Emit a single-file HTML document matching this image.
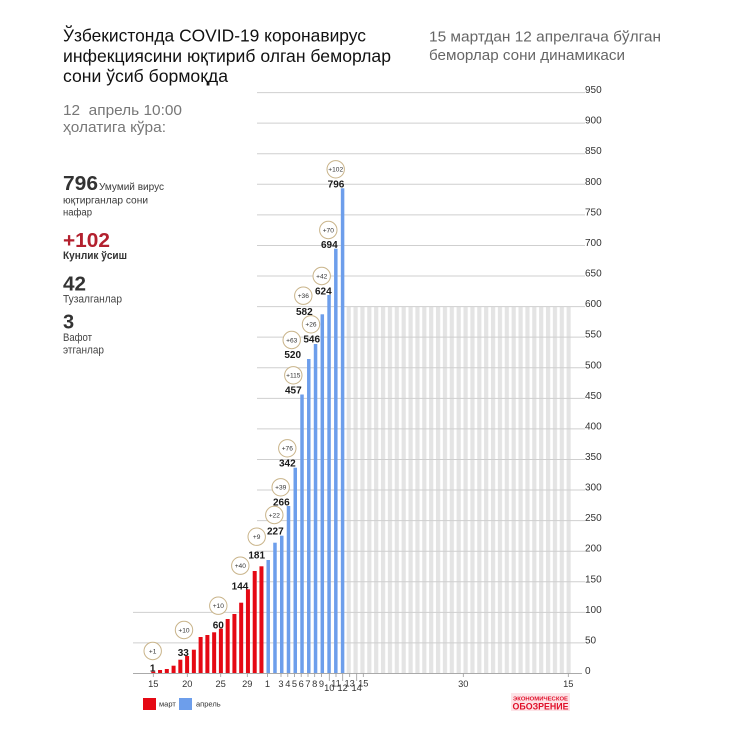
<!DOCTYPE html>
<html><head><meta charset="utf-8"><style>
html,body{margin:0;padding:0;background:#fff;}
svg{display:block;}
text{font-family:"Liberation Sans","DejaVu Sans",sans-serif;}
</style></head><body>
<svg width="736" height="736" viewBox="0 0 736 736" xmlns="http://www.w3.org/2000/svg">
<defs>
<pattern id="gp" patternUnits="userSpaceOnUse" x="346.6" y="0" width="6.875" height="736">
<rect x="0" y="0" width="4.2" height="736" fill="#e4e4e4"/>
</pattern>
</defs>
<rect width="736" height="736" fill="#fff"/>

<!-- Titles -->
<g fill="#111" font-size="17.5">
<text x="63" y="41.5" textLength="303" lengthAdjust="spacingAndGlyphs">Ўзбекистонда COVID-19 коронавирус</text>
<text x="63" y="62" textLength="328" lengthAdjust="spacingAndGlyphs">инфекциясини юқтириб олган беморлар</text>
<text x="63" y="82" textLength="165" lengthAdjust="spacingAndGlyphs">сони ўсиб бормоқда</text>
</g>
<g fill="#666" font-size="15">
<text x="429" y="41.5" textLength="232" lengthAdjust="spacingAndGlyphs">15 мартдан 12 апрелгача бўлган</text>
<text x="429" y="60" textLength="196" lengthAdjust="spacingAndGlyphs">беморлар сони динамикаси</text>
</g>
<g fill="#777" font-size="15">
<text x="63" y="115" textLength="119" lengthAdjust="spacingAndGlyphs">12&#160; апрель 10:00</text>
<text x="63" y="132" textLength="103" lengthAdjust="spacingAndGlyphs">ҳолатига кўра:</text>
</g>

<!-- Stats -->
<text x="63" y="190" font-size="20" font-weight="bold" fill="#333" textLength="35" lengthAdjust="spacingAndGlyphs">796</text>
<text x="99" y="190" font-size="10" fill="#3a3a3a" textLength="65" lengthAdjust="spacingAndGlyphs">Умумий вирус</text>
<text x="63" y="203.5" font-size="10" fill="#3a3a3a" textLength="85" lengthAdjust="spacingAndGlyphs">юқтирганлар сони</text>
<text x="63" y="215.5" font-size="10" fill="#3a3a3a" textLength="29" lengthAdjust="spacingAndGlyphs">нафар</text>
<text x="63" y="247" font-size="20" font-weight="bold" fill="#b3202e" textLength="47" lengthAdjust="spacingAndGlyphs">+102</text>
<text x="63" y="259" font-size="11" font-weight="bold" fill="#333" textLength="64" lengthAdjust="spacingAndGlyphs">Кунлик ўсиш</text>
<text x="63" y="290.7" font-size="20" font-weight="bold" fill="#333" textLength="23" lengthAdjust="spacingAndGlyphs">42</text>
<text x="63" y="302.7" font-size="11" fill="#444" textLength="59" lengthAdjust="spacingAndGlyphs">Тузалганлар</text>
<text x="63" y="328.3" font-size="20" font-weight="bold" fill="#333">3</text>
<text x="63" y="341" font-size="11" fill="#444" textLength="29" lengthAdjust="spacingAndGlyphs">Вафот</text>
<text x="63" y="353.5" font-size="11" fill="#444" textLength="41" lengthAdjust="spacingAndGlyphs">этганлар</text>

<!-- Grey bars -->
<rect x="346.6" y="306.6" width="224.2" height="366.9" fill="url(#gp)"/>

<!-- Gridlines -->
<g stroke="#cfcfcf" stroke-width="1">
<line x1="133" y1="642.93" x2="585" y2="642.93"/>
<line x1="133" y1="612.35" x2="585" y2="612.35"/>
<line x1="257" y1="581.78" x2="585" y2="581.78"/>
<line x1="257" y1="551.2" x2="585" y2="551.2"/>
<line x1="257" y1="520.63" x2="585" y2="520.63"/>
<line x1="257" y1="490.05" x2="585" y2="490.05"/>
<line x1="257" y1="459.48" x2="585" y2="459.48"/>
<line x1="257" y1="428.9" x2="585" y2="428.9"/>
<line x1="257" y1="398.33" x2="585" y2="398.33"/>
<line x1="257" y1="367.75" x2="585" y2="367.75"/>
<line x1="257" y1="337.18" x2="585" y2="337.18"/>
<line x1="257" y1="306.6" x2="585" y2="306.6"/>
<line x1="257" y1="276.03" x2="585" y2="276.03"/>
<line x1="257" y1="245.45" x2="585" y2="245.45"/>
<line x1="257" y1="214.88" x2="585" y2="214.88"/>
<line x1="257" y1="184.3" x2="585" y2="184.3"/>
<line x1="257" y1="153.73" x2="585" y2="153.73"/>
<line x1="257" y1="123.15" x2="585" y2="123.15"/>
<line x1="257" y1="92.58" x2="585" y2="92.58"/>
</g>

<!-- Y labels -->
<g font-size="10" fill="#333">
<text x="585" y="674">0</text>
<text x="585" y="643.43">50</text>
<text x="585" y="612.85">100</text>
<text x="585" y="582.28">150</text>
<text x="585" y="551.7">200</text>
<text x="585" y="521.13">250</text>
<text x="585" y="490.55">300</text>
<text x="585" y="459.98">350</text>
<text x="585" y="429.4">400</text>
<text x="585" y="398.83">450</text>
<text x="585" y="368.25">500</text>
<text x="585" y="337.68">550</text>
<text x="585" y="307.1">600</text>
<text x="585" y="276.53">650</text>
<text x="585" y="245.95">700</text>
<text x="585" y="215.38">750</text>
<text x="585" y="184.8">800</text>
<text x="585" y="154.23">850</text>
<text x="585" y="123.65">900</text>
<text x="585" y="93.08">950</text>
</g>

<!-- Red bars -->
<g fill="#e50914">
<rect x="151.3" y="671.7" width="4" height="1.8"/>
<rect x="158.06" y="670" width="4" height="3.5"/>
<rect x="164.82" y="669" width="4" height="4.5"/>
<rect x="171.58" y="665.7" width="4" height="7.8"/>
<rect x="178.34" y="659.7" width="4" height="13.8"/>
<rect x="185.1" y="656" width="4" height="17.5"/>
<rect x="191.86" y="649.7" width="4" height="23.8"/>
<rect x="198.62" y="637" width="4" height="36.5"/>
<rect x="205.38" y="635" width="4" height="38.5"/>
<rect x="212.14" y="632.3" width="4" height="41.2"/>
<rect x="218.9" y="628.7" width="4" height="44.8"/>
<rect x="225.66" y="619" width="4" height="54.5"/>
<rect x="232.42" y="614" width="4" height="59.5"/>
<rect x="239.18" y="602.7" width="4" height="70.8"/>
<rect x="245.94" y="589.3" width="4" height="84.2"/>
<rect x="252.7" y="571" width="4" height="102.5"/>
<rect x="259.46" y="566.3" width="4" height="107.2"/>
</g>
<!-- Blue bars -->
<g fill="#6d9eeb">
<rect x="266.47" y="560" width="3.5" height="113.5"/>
<rect x="273.23" y="542.7" width="3.5" height="130.8"/>
<rect x="279.99" y="535.7" width="3.5" height="137.8"/>
<rect x="286.75" y="506" width="3.5" height="167.5"/>
<rect x="293.51" y="467.7" width="3.5" height="205.8"/>
<rect x="300.27" y="394.5" width="3.5" height="279"/>
<rect x="307.03" y="359" width="3.5" height="314.5"/>
<rect x="313.79" y="344" width="3.5" height="329.5"/>
<rect x="320.55" y="314.3" width="3.5" height="359.2"/>
<rect x="327.31" y="295" width="3.5" height="378.5"/>
<rect x="334.07" y="248.7" width="3.5" height="424.8"/>
<rect x="340.83" y="188.3" width="3.5" height="485.2"/>
</g>

<!-- Axis -->
<line x1="133" y1="673.5" x2="582" y2="673.5" stroke="#aaa" stroke-width="1"/>
<g stroke="#999" stroke-width="0.8">
<line x1="153.3" y1="673.5" x2="153.3" y2="677"/>
<line x1="187.3" y1="673.5" x2="187.3" y2="677"/>
<line x1="220.7" y1="673.5" x2="220.7" y2="677"/>
<line x1="247.3" y1="673.5" x2="247.3" y2="677"/>
<line x1="267.5" y1="673.5" x2="267.5" y2="677"/>
<line x1="281" y1="673.5" x2="281" y2="677"/>
<line x1="287.8" y1="673.5" x2="287.8" y2="677"/>
<line x1="294.5" y1="673.5" x2="294.5" y2="677"/>
<line x1="301.2" y1="673.5" x2="301.2" y2="677"/>
<line x1="308" y1="673.5" x2="308" y2="677"/>
<line x1="314.7" y1="673.5" x2="314.7" y2="677"/>
<line x1="321.5" y1="673.5" x2="321.5" y2="677"/>
<line x1="329.3" y1="673.5" x2="329.3" y2="681"/>
<line x1="336" y1="673.5" x2="336" y2="677"/>
<line x1="342.7" y1="673.5" x2="342.7" y2="681"/>
<line x1="349.7" y1="673.5" x2="349.7" y2="677"/>
<line x1="356.7" y1="673.5" x2="356.7" y2="681"/>
<line x1="363.3" y1="673.5" x2="363.3" y2="677"/>
<line x1="463.3" y1="673.5" x2="463.3" y2="677"/>
<line x1="568.3" y1="673.5" x2="568.3" y2="677"/>
</g>

<!-- X labels -->
<g font-size="9.3" fill="#333" text-anchor="middle">
<text x="153.3" y="687">15</text>
<text x="187.3" y="687">20</text>
<text x="220.7" y="687">25</text>
<text x="247.3" y="687">29</text>
<text x="267.5" y="687">1</text>
<text x="281" y="687">3</text>
<text x="287.8" y="687">4</text>
<text x="294.5" y="687">5</text>
<text x="301.2" y="687">6</text>
<text x="308" y="687">7</text>
<text x="314.7" y="687">8</text>
<text x="321.5" y="687">9</text>
<text x="329.3" y="691">10</text>
<text x="336" y="686.5">11</text>
<text x="342.7" y="691">12</text>
<text x="349.7" y="686.5">13</text>
<text x="356.7" y="691">14</text>
<text x="363.3" y="686.5">15</text>
<text x="463.3" y="687">30</text>
<text x="568.3" y="687">15</text>
</g>

<!-- Annotation circles -->
<g fill="#fff" stroke="#c9b48a" stroke-width="1">
<circle cx="335.7" cy="169.3" r="8.7"/>
<circle cx="328.3" cy="230" r="8.7"/>
<circle cx="321.7" cy="276" r="8.7"/>
<circle cx="303.3" cy="295.7" r="8.7"/>
<circle cx="311" cy="324.3" r="8.7"/>
<circle cx="291.7" cy="340" r="8.7"/>
<circle cx="293.3" cy="375.3" r="8.7"/>
<circle cx="287.3" cy="448.3" r="8.7"/>
<circle cx="280.7" cy="487.3" r="8.7"/>
<circle cx="274.3" cy="515" r="8.7"/>
<circle cx="256.7" cy="536.7" r="8.7"/>
<circle cx="240.3" cy="565.7" r="8.7"/>
<circle cx="218.3" cy="605.7" r="8.7"/>
<circle cx="184" cy="630" r="8.7"/>
<circle cx="152.7" cy="651" r="8.7"/>
</g>
<g font-size="6.6" fill="#333" text-anchor="middle">
<text x="335.7" y="171.6">+102</text>
<text x="328.3" y="232.3">+70</text>
<text x="321.7" y="278.3">+42</text>
<text x="303.3" y="298">+36</text>
<text x="311" y="326.6">+26</text>
<text x="291.7" y="342.3">+63</text>
<text x="293.3" y="377.6">+115</text>
<text x="287.3" y="450.6">+76</text>
<text x="280.7" y="489.6">+39</text>
<text x="274.3" y="517.3">+22</text>
<text x="256.7" y="539">+9</text>
<text x="240.3" y="568">+40</text>
<text x="218.3" y="608">+10</text>
<text x="184" y="632.3">+10</text>
<text x="152.7" y="653.3">+1</text>
</g>
<g font-size="10" font-weight="bold" fill="#1a1a1a" text-anchor="middle">
<text x="336" y="187.3">796</text>
<text x="329.3" y="247.9">694</text>
<text x="323.3" y="294.3">624</text>
<text x="304.3" y="314.9">582</text>
<text x="311.7" y="342.6">546</text>
<text x="292.7" y="357.9">520</text>
<text x="293.3" y="393.6">457</text>
<text x="287.3" y="466.3">342</text>
<text x="281.3" y="505.3">266</text>
<text x="275.3" y="534.3">227</text>
<text x="256.7" y="558.6">181</text>
<text x="240" y="589.3">144</text>
<text x="218.3" y="628.3">60</text>
<text x="183.3" y="655.9">33</text>
<text x="152.7" y="671.3">1</text>
</g>

<!-- Legend -->
<rect x="143" y="698" width="13" height="12" fill="#e50914"/>
<text x="159" y="706.5" font-size="7.5" fill="#333">март</text>
<rect x="179" y="698" width="13" height="12" fill="#6d9eeb"/>
<text x="196" y="706.5" font-size="7.5" fill="#333">апрель</text>

<!-- Logo -->
<rect x="511" y="693" width="59" height="18" fill="#fde3e7"/>
<text x="540.5" y="700.5" font-size="5.5" font-weight="bold" fill="#e0102a" text-anchor="middle" textLength="55" lengthAdjust="spacingAndGlyphs">ЭКОНОМИЧЕСКОЕ</text>
<text x="540.5" y="709.5" font-size="9" font-weight="bold" fill="#e0102a" text-anchor="middle" textLength="56" lengthAdjust="spacingAndGlyphs">ОБОЗРЕНИЕ</text>
</svg>
</body></html>
